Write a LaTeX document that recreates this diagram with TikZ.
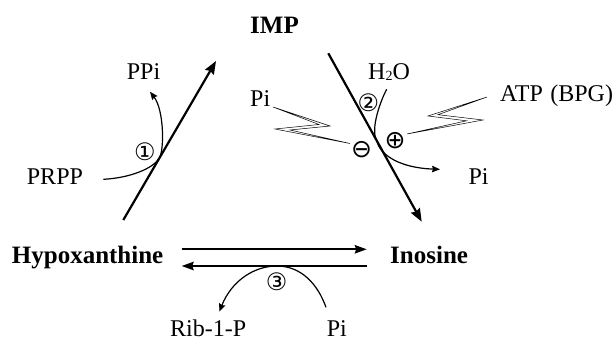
\documentclass[tikz,border=0pt]{standalone}
\usepackage{fontspec}
\setmainfont{Liberation Serif}
\newfontfamily\symfont{DejaVu Sans}
\usetikzlibrary{arrows.meta}
\begin{document}
\begin{tikzpicture}[x=1pt,y=-1pt,
  lbl/.style={inner sep=0pt, anchor=base west, font=\fontsize{24}{28}\selectfont},
  blbl/.style={inner sep=0pt, anchor=base west, font=\fontsize{25}{30}\selectfont\bfseries},
  circ/.style={inner sep=0pt, font=\fontsize{24}{24}\selectfont\symfont},
  sgn/.style={inner sep=0pt, font=\fontsize{25}{25}\selectfont\symfont},
  mainarrow/.style={line width=2.2pt, -{Stealth[length=13pt,width=10pt,inset=1.5pt]}},
  horiz/.style={line width=1.7pt, -{Stealth[length=12pt,width=8.5pt,inset=1.5pt]}},
  curv/.style={line width=1.2pt, -{Stealth[length=8pt,width=6.5pt,inset=1pt]}},
  bolt/.style={draw, fill=white, line width=0.5pt, line join=miter}
]
\useasboundingbox (0,0) rectangle (616,342);

% labels
\node[blbl] (imp) at (250,33.3) {IMP};
\node[lbl] (ppi) at (126.7,80) {PPi};
\node[lbl] (prpp) at (26.7,185) {PRPP};
\node[lbl] (piL) at (250,106.7) {Pi};
\node[lbl] (h2o) at (368,80) {H\raisebox{-1pt}{\fontsize{14}{14}\selectfont 2}O};
\node[lbl] (atp) at (500,102) {ATP\hspace{7.5pt}(BPG)};
\node[lbl] (piR) at (468.3,184) {Pi};
\node[blbl] (hyp) at (11.7,263.3) {Hypoxanthine};
\node[blbl] (ino) at (390,263.3) {Inosine};
\node[lbl] (rib) at (170,336.5) {Rib-1-P};
\node[lbl] (piB) at (326.7,336.5) {Pi};

\node[circ] (e1) at (145,151.7) {①};
\node[circ] (e2) at (368.3,102.7) {②};
\node[circ] (e3) at (276.7,281.7) {③};
\node[sgn] (minus) at (361.7,150) {⊖};
\node[sgn] (plus) at (395,141) {⊕};

% coordinates
\coordinate (lt) at (123.3,220);
\coordinate (lh) at (216,61);
\coordinate (rt) at (328.3,53.3);
\coordinate (rh) at (421.7,221.7);
\coordinate (t1) at (159.4,158);
\coordinate (t2) at (376.9,141);
\coordinate (fa) at (181.7,249.3);
\coordinate (fb) at (366.7,249.3);
\coordinate (ba) at (366.7,266);
\coordinate (bb) at (181.7,266);
\coordinate (t3) at (276.7,266);

% main arrows
\draw[mainarrow] (lt) -- (lh);
\draw[mainarrow] (rt) -- (rh);
\draw[horiz] (fa) -- (fb);
\draw[horiz] (ba) -- (bb);

% reaction 1
\draw[curv] (103.3,179.3) .. controls (130,178) and (153.4,168.4) .. (t1)
  .. controls (164.4,149.4) and (164,110) .. (150,91.7);
% reaction 2
\draw[curv] (386.7,89.3) .. controls (381.7,98.3) and (369.6,128.8) .. (t2)
  .. controls (380,155) and (400,168) .. (440,169.3);
% reaction 3
\draw[curv] (326,307.3) .. controls (318,285) and (302,266) .. (t3)
  .. controls (255,266) and (232,280) .. (219.3,311.7);

% effector bolts
\draw[bolt] (273,107) -- (330,126) -- (290,130) -- (350,143.5) -- (275,129) -- (319,124.5) -- cycle;
\draw[bolt] (487,97) -- (428,116) -- (466.6,120.8) -- (407,134) -- (483,120) -- (438,114.7) -- cycle;
\end{tikzpicture}
\end{document}
